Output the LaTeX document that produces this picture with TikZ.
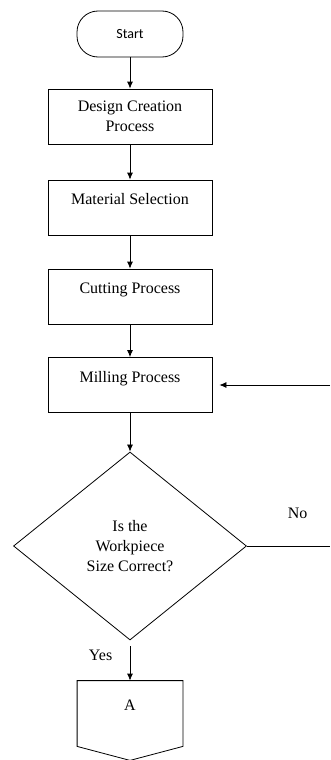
\documentclass[tikz,border=0pt]{standalone}
\usepackage{fontspec}
\setmainfont{Liberation Serif}
\newfontfamily\calfont{Carlito}
\usetikzlibrary{shapes.geometric, arrows.meta, calc}
\tikzstyle{startstop} = [rectangle, rounded corners=21pt, minimum width=106pt, minimum height=46pt, text centered, draw=black, font=\calfont\fontsize{14}{16}\selectfont]
\tikzstyle{process} = [rectangle, minimum width=164pt, minimum height=55pt, text centered, draw=black]
\tikzstyle{oneline} = [process, text height=12pt, text depth=18pt]
\tikzstyle{decision} = [diamond, minimum width=233pt, minimum height=188pt, inner sep=0pt, text centered, draw=black]
\tikzstyle{arrow} = [->,>={Latex[length=7pt,width=6pt]}]

\begin{document}
\begin{tikzpicture}[x=1pt, y=1pt, line width=0.8pt, font=\fontsize{16}{20}\selectfont]
\useasboundingbox (0,0) rectangle (330,-760);
\node (start) [startstop] at (130,-34) {Start};
\node (design) [process, align=center] at (130,-116.5) {Design Creation\\Process};
\node (material) [oneline] at (130,-207.5) {Material Selection};
\node (cutting) [oneline] at (130,-296.5) {Cutting Process};
\node (milling) [oneline] at (130,-385) {Milling Process};
\node (decide) [decision, align=center] at (130,-546) {Is the\\Workpiece\\Size Correct?};
\node (conA) [minimum width=105pt, minimum height=79pt, text height=12pt, text depth=32pt] at (130,-720.5) {A};
\draw (conA.north west) -- (conA.north east) -- ($(conA.south east)+(0,14)$) -- (conA.south) -- ($(conA.south west)+(0,14)$) -- cycle;

\coordinate (noend) at (330,-546);
\coordinate (backin) at (noend |- milling.east);

\draw [arrow] (start) -- (design);
\draw [arrow] (design) -- (material);
\draw [arrow] (material) -- (cutting);
\draw [arrow] (cutting) -- (milling);
\draw [arrow] (milling) -- (decide);
\draw [arrow, shorten <=6pt] (decide) -- node[left=14pt, pos=0.37] {Yes} (conA);
\draw (decide.east) -- node[above=24pt, pos=0.61] {No} (noend);
\draw [arrow, shorten >=7pt] (backin) -- (milling.east);
\end{tikzpicture}
\end{document}
